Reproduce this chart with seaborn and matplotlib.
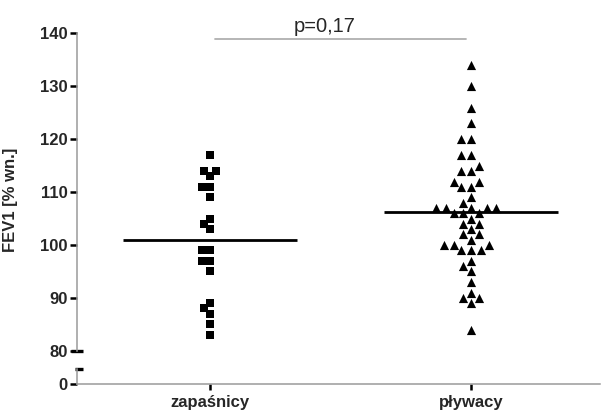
import numpy as np
import pandas as pd
import seaborn as sns
import matplotlib.pyplot as plt

# FEV1 [% of predicted]
groups = ["zapaśnicy", "pływacy"]
zapasnicy = [117, 114, 114, 113, 111, 111, 109, 105, 104, 103,
             99, 99, 97, 97, 95, 89, 88, 87, 85, 83]
plywacy = [134, 130, 126, 123, 120, 120, 117, 117, 115, 114, 114,
           112, 112, 111, 111, 109, 108, 107, 107, 107, 107, 107,
           106, 106, 106, 105, 104, 104, 103, 102, 102, 101,
           100, 100, 100, 99, 99, 99, 97, 96, 95, 93, 91, 90, 90, 89, 84]
p_text = "p=0,17"

df = pd.DataFrame({
    "grupa": [groups[0]] * len(zapasnicy) + [groups[1]] * len(plywacy),
    "FEV1": zapasnicy + plywacy,
})

sns.set_style("ticks")
plt.rcParams["font.family"] = ["Liberation Sans", "DejaVu Sans"]

fig = plt.figure(figsize=(6.01, 4.13), dpi=100)
ax = fig.add_axes([0.1281, 0.1508, 0.8702, 0.7681])
ax_low = fig.add_axes([0.1281, 0.0714, 0.8702, 0.0351], sharex=ax)

markers = ["s", "^"]
sizes = [5.6, 6.6]
for g, m, s in zip(groups, markers, sizes):
    sns.swarmplot(data=df[df["grupa"] == g], x="grupa", y="FEV1", order=groups,
                  marker=m, size=s, color="black", linewidth=0, ax=ax)

# mean lines
means = df.groupby("grupa")["FEV1"].mean()
for i, g in enumerate(groups):
    ax.hlines(means[g], i - 0.335, i + 0.335, color="black", lw=2.0, zorder=1)

# p-value bar
ax.plot([0.02, 0.98], [138.9, 138.9], color="#b0b0b0", lw=1.3, clip_on=False)
ax.text(0.44, 140.3, p_text, ha="center", va="baseline", fontsize=14.5,
        clip_on=False)

spine_c = "#9a9a9a"
ax.set_xlim(-0.5096, 1.494)
ax.set_ylim(80, 140)
ax.set_yticks(range(80, 141, 10))
ax.set_ylabel("FEV1 [% wn.]", fontsize=12, fontweight="bold")
ax.yaxis.set_label_coords(-0.113, 0.475)
ax.set_xlabel("")
ax.tick_params(axis="x", bottom=False, labelbottom=False)
ax.tick_params(axis="y", length=5, width=1.8, color="black", pad=1.5,
               labelsize=12)
for t in ax.get_yticklabels():
    t.set_fontweight("bold")
for sp in ["top", "right", "bottom"]:
    ax.spines[sp].set_visible(False)
ax.spines["left"].set_color(spine_c)
ax.spines["left"].set_linewidth(1.1)

# lower segment of broken axis
ax_low.set_ylim(0, 2.75)
ax_low.set_yticks([0])
ax_low.set_xticks(range(len(groups)))
ax_low.set_xticklabels(groups, fontsize=12, fontweight="bold")
ax_low.tick_params(axis="y", length=5, width=1.8, color="black", pad=1.5,
                   labelsize=12)
ax_low.tick_params(axis="x", length=4, width=1.8, color="black", pad=4)
for t in ax_low.get_yticklabels():
    t.set_fontweight("bold")
for sp in ["top", "right"]:
    ax_low.spines[sp].set_visible(False)
for sp in ["left", "bottom"]:
    ax_low.spines[sp].set_color(spine_c)
    ax_low.spines[sp].set_linewidth(1.1)
ax_low.patch.set_alpha(0)

# break marks
ax.plot([-0.012, 0.012], [80, 80], transform=ax.get_yaxis_transform(),
        color="black", lw=2.4, clip_on=False, solid_capstyle="butt")
ax_low.plot([-0.003, 0.012], [2.75, 2.75], transform=ax_low.get_yaxis_transform(),
            color="black", lw=2.4, clip_on=False, solid_capstyle="butt")

fig.savefig("out.png", dpi=100)
